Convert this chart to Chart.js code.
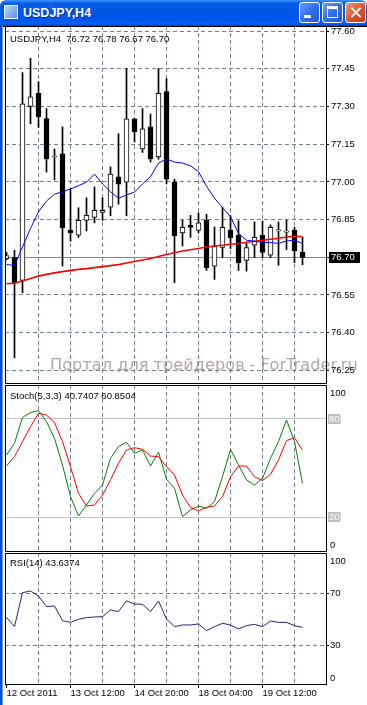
<!DOCTYPE html>
<html><head><meta charset="utf-8"><title>USDJPY,H4</title>
<script src="https://cdn.jsdelivr.net/npm/chart.js@4.4.0/dist/chart.umd.min.js"></script>
<style>
html,body{margin:0;padding:0;background:#fff;width:367px;height:705px;overflow:hidden;}
#title{position:absolute;left:0;top:0;width:367px;height:26px;border-radius:6px 6px 0 0;
background:linear-gradient(to bottom,#3d95ff 0%,#0a5fe8 12%,#0055e5 45%,#0058ec 80%,#0a5fee 90%,#0042d2 100%);}
#ttext{position:absolute;left:23px;top:6px;color:#fff;font:bold 12.5px "Liberation Sans",Arial,sans-serif;text-shadow:1px 1px 0 #0b2a9a;}
#icon{position:absolute;left:4px;top:5px;width:12px;height:12px;border:1px solid #e8f0ff;background:linear-gradient(135deg,#bcd4ff,#5d8fe6);}
.btn{position:absolute;top:2px;width:21px;height:21px;border:1px solid #fff;border-radius:3px;box-sizing:border-box;
background:linear-gradient(135deg,#6a9cf8 0%,#2f6ce8 55%,#1f58d8 100%);}
.close{background:linear-gradient(135deg,#f29a78 0%,#d9542e 55%,#c23c16 100%);}
.gmin{position:absolute;left:4px;top:12px;width:7px;height:3px;background:#fff;}
.gmax{position:absolute;left:4px;top:3px;width:9px;height:8px;border:1px solid #fff;border-top-width:3px;}
.gx{position:absolute;left:9px;top:3px;width:2px;height:13px;background:#fff;}
.gx.a{transform:rotate(45deg);} .gx.b{transform:rotate(-45deg);}
#lframe{position:absolute;left:0;top:26px;width:2px;height:679px;background:#0b4ad8;border-right:1px solid #6e9cf0;}
#topline{position:absolute;left:3px;top:26px;width:364px;height:1px;background:#000;}
canvas{position:absolute;left:0;top:0;}
</style></head>
<body>
<div id="title"><div id="icon"></div><div id="ttext">USDJPY,H4</div>
<div class="btn" style="left:299px"><div class="gmin"></div></div>
<div class="btn" style="left:322px"><div class="gmax"></div></div>
<div class="btn close" style="left:345px"><div class="gx a"></div><div class="gx b"></div></div>
</div>
<div id="lframe"></div>
<div id="topline"></div>
<canvas id="cMain" width="367" height="705"></canvas>
<canvas id="cStoch" width="367" height="705"></canvas>
<canvas id="cRsi" width="367" height="705"></canvas>
<script>
// ---------------- DATA ----------------
const symbol = 'USDJPY';
const period = 'H4';
const opens  = [76.695,76.700,76.608,77.300,77.352,77.252,77.099,77.112,76.808,76.788,76.847,76.859,76.879,76.899,77.020,76.999,77.251,77.131,77.219,77.099,77.359,76.999,76.797,76.827,76.807,76.848,76.665,76.739,76.808,76.788,76.688,76.748,76.787,76.708,76.805,76.800,76.808,76.72];
const highs  = [76.720,76.728,77.435,77.492,77.399,77.292,77.131,77.219,76.972,76.897,76.937,76.980,76.937,77.060,77.192,77.451,77.252,77.292,77.270,77.451,77.411,77.011,76.847,76.867,76.877,76.871,76.821,76.899,76.865,76.845,76.757,76.841,76.845,76.829,76.841,76.848,76.819,76.78];
const lows   = [76.690,76.300,76.559,77.231,77.217,77.039,77.008,76.665,76.764,76.779,76.805,76.837,76.847,76.865,76.911,76.865,77.159,77.117,77.079,77.090,76.992,76.599,76.745,76.779,76.797,76.648,76.612,76.699,76.735,76.647,76.645,76.699,76.699,76.699,76.668,76.730,76.679,76.67];
const closes = [76.707,76.598,77.311,77.339,77.259,77.091,77.099,76.817,76.797,76.847,76.867,76.887,76.887,77.031,76.991,77.251,77.199,77.211,77.091,77.352,77.011,76.785,76.819,76.819,76.837,76.659,76.745,76.819,76.777,76.679,76.739,76.779,76.719,76.819,76.805,76.800,76.725,76.70];
const maFast = [76.671,76.668,76.741,76.815,76.881,76.924,76.951,76.961,76.972,76.985,76.999,77.031,76.992,76.961,76.935,76.948,76.959,76.992,77.021,77.075,77.091,77.079,77.075,77.064,77.041,76.983,76.935,76.898,76.861,76.795,76.768,76.764,76.759,76.759,76.755,76.765,76.768,76.755];
const maSlow = [76.595,76.597,76.606,76.616,76.625,76.632,76.638,76.643,76.648,76.652,76.655,76.659,76.663,76.667,76.671,76.677,76.683,76.689,76.695,76.703,76.711,76.718,76.725,76.730,76.735,76.741,76.745,76.748,76.752,76.755,76.760,76.764,76.768,76.772,76.776,76.781,76.784,76.783];
const stochParams = [5,3,3];
const stochMain   = [58.0,65.2,81.0,83.9,85.1,78.4,68.2,51.9,32.6,20.8,27.5,34.6,39.7,56.0,63.1,65.8,59.1,61.1,51.3,59.7,43.2,37.7,20.4,24.5,26.9,25.5,29.6,44.8,61.5,51.9,42.8,39.7,43.8,56.0,66.2,79.4,66.2,40.7407];
const stochSignal = [51.3,57.0,66.2,75.3,83.5,82.4,77.8,66.2,50.9,34.6,26.9,27.5,33.6,42.8,53.0,61.1,62.5,61.5,57.4,57.0,50.9,45.8,33.6,26.1,23.9,26.1,26.9,32.6,44.8,51.3,51.3,44.8,42.4,46.2,55.0,66.8,68.6,60.8504];
const stochLevels = [20,80];
const stochLabels = [0,20,80,100];
const rsiPeriod = 14;
const rsiValues = [51.4,44.2,70.5,71.8,67.9,59.7,60.2,48.8,47.5,49.9,51.2,51.7,51.9,57.1,55.8,64.1,61.7,61.5,55.8,64.1,50.1,44.2,45.5,45.5,46.3,41.1,44.2,46.8,45.5,42.4,45.0,46.0,44.2,48.6,47.5,47.5,45.0,43.6374];
const rsiLevels = [30,70];
const rsiLabels = [0,30,70,100];
const priceTicks = [76.25,76.40,76.55,76.70,76.85,77.00,77.15,77.30,77.45,77.60];
const xLabelIdx  = [0,8,16,24,32];
const xLabelText = ['12 Oct 2011','13 Oct 12:00','14 Oct 20:00','18 Oct 04:00','19 Oct 12:00'];
const watermarkText = 'Портал для трейдеров - ForTrader.ru';

// ---------------- STYLE ----------------
const FONT = '"Liberation Sans", Arial, sans-serif';
const FS = 9.5;
const GRID = '#708090';
const DASH = [4,3];
const X_MIN = -0.1875, X_MAX = 39.9375;
const AXIS_W = 41;
const last = closes.length - 1;
const idx = closes.map((_, i) => i);
const gridIdx = idx.filter(i => i % 4 === 0);
const pts = arr => arr.map((v, i) => ({x: i, y: v}));
Chart.defaults.font.family = FONT;

function xAxis(bottom) {
  return {
    type: 'linear', min: X_MIN, max: X_MAX, offset: false, bounds: 'data',
    afterBuildTicks: s => { s.ticks = gridIdx.map(v => ({value: v})); },
    afterFit: s => { s.height = bottom ? 21 : 0; },
    grid: {
      offset: false, drawOnChartArea: true, lineWidth: 1,
      color: c => (c.tick && c.tick.value > 0) ? GRID : 'rgba(0,0,0,0)',
      drawTicks: bottom, tickLength: 4, tickWidth: 1,
      tickColor: c => (c.tick && xLabelIdx.includes(c.tick.value)) ? '#000' : 'rgba(0,0,0,0)'
    },
    border: {display: false, dash: DASH},
    ticks: {
      display: bottom, autoSkip: false, maxRotation: 0, minRotation: 0, align: 'start',
      padding: 0, color: '#000', font: {family: FONT, size: FS},
      callback: v => { const k = xLabelIdx.indexOf(v); return k >= 0 ? xLabelText[k] : ''; }
    }
  };
}

function frame(chart) {
  const {ctx, chartArea: a} = chart;
  ctx.save(); ctx.strokeStyle = '#000'; ctx.lineWidth = 1;
  ctx.strokeRect(a.left + 0.5, a.top + 0.5, a.right - a.left, a.bottom - a.top);
  ctx.restore();
}
function header(chart, text, dy) {
  const {ctx, chartArea: a} = chart;
  ctx.save(); ctx.font = FS + 'px ' + FONT; ctx.fillStyle = '#000';
  ctx.textBaseline = 'middle'; ctx.textAlign = 'left';
  ctx.fillText(text, a.left + 5, a.top + dy);
  ctx.restore();
}
function sideLabels(chart, values, boxed) {
  const {ctx, chartArea: a} = chart; const ys = chart.scales.y;
  ctx.save(); ctx.font = FS + 'px ' + FONT; ctx.textBaseline = 'middle'; ctx.textAlign = 'left';
  values.forEach(v => {
    let py = ys.getPixelForValue(v);
    py = Math.min(Math.max(py, a.top + 8), a.bottom - 6);
    const t = String(v);
    if (boxed.includes(v)) {
      const w = ctx.measureText(t).width;
      ctx.fillStyle = '#c0c0c0'; ctx.fillRect(a.right + 2, Math.round(py) - 5, w + 2, 10);
      ctx.fillStyle = '#ffffff'; ctx.fillText(t, a.right + 3, py);
    } else {
      ctx.fillStyle = '#000'; ctx.fillText(t, a.right + 4, py);
    }
  });
  ctx.restore();
}

// ---------------- MAIN PRICE CHART ----------------
const mainDeco = {
  id: 'mainDeco',
  beforeDraw(chart) {
    const ctx = chart.ctx;
    ctx.save();
    ctx.font = '17px "DejaVu Sans", sans-serif';
    const w = ctx.measureText(watermarkText).width;
    const size = 17 * 308 / w;
    ctx.font = size.toFixed(2) + 'px "DejaVu Sans", sans-serif';
    ctx.fillStyle = '#b4a7a7'; ctx.textBaseline = 'alphabetic'; ctx.textAlign = 'left';
    ctx.fillText(watermarkText, 50, 370);
    ctx.restore();
  },
  beforeDatasetsDraw(chart) {
    const {ctx, chartArea: a} = chart;
    const y = Math.round(chart.scales.y.getPixelForValue(closes[last])) + 0.5;
    ctx.save(); ctx.strokeStyle = '#808890'; ctx.lineWidth = 1;
    ctx.beginPath(); ctx.moveTo(a.left, y); ctx.lineTo(a.right, y); ctx.stroke();
    ctx.restore();
  },
  afterDraw(chart) {
    frame(chart);
    header(chart, symbol + ',' + period + '  ' + [opens[last], highs[last], lows[last], closes[last]].map(v => v.toFixed(2)).join(' '), 13);
    const {ctx, chartArea: a} = chart;
    const y = chart.scales.y.getPixelForValue(closes[last]);
    ctx.save();
    ctx.fillStyle = '#000'; ctx.fillRect(a.right + 3, Math.round(y) - 5, 31, 11);
    ctx.fillStyle = '#fff'; ctx.font = FS + 'px ' + FONT; ctx.textBaseline = 'middle'; ctx.textAlign = 'left';
    ctx.fillText(closes[last].toFixed(2), a.right + 5, Math.round(y) + 0.5);
    ctx.restore();
  }
};

new Chart(document.getElementById('cMain'), {
  type: 'bar',
  data: {
    datasets: [
      {type: 'line', data: pts(maFast), borderColor: '#0000ff', borderWidth: 1, pointRadius: 0, tension: 0, order: 0},
      {type: 'line', data: pts(maSlow), borderColor: '#ff0000', borderWidth: 1.6, pointRadius: 0, tension: 0, order: 1},
      {type: 'bar', data: opens.map((o, i) => ({x: i, y: [o, closes[i]]})),
        backgroundColor: opens.map((o, i) => closes[i] >= o ? '#ffffff' : '#000000'),
        borderColor: '#000000', borderWidth: 1, borderSkipped: false, barThickness: 5,
        minBarLength: 1, grouped: false, order: 2},
      {type: 'bar', data: highs.map((h, i) => ({x: i, y: [lows[i], h]})),
        backgroundColor: '#000000', borderWidth: 0, barThickness: 1, grouped: false, order: 3}
    ]
  },
  options: {
    responsive: false, animation: false, devicePixelRatio: 1,
    layout: {padding: {left: 5, top: 26, right: 0, bottom: 705 - 383}},
    plugins: {legend: {display: false}, tooltip: {enabled: false}},
    scales: {
      x: xAxis(false),
      y: {
        type: 'linear', position: 'right', min: 76.1998, max: 77.6204, bounds: 'data',
        afterBuildTicks: s => { s.ticks = priceTicks.map(v => ({value: v})); },
        afterFit: s => { s.width = AXIS_W; },
        grid: {color: GRID, lineWidth: 1, drawTicks: true, tickLength: 3, tickColor: '#000', tickWidth: 1},
        border: {display: false, dash: DASH},
        ticks: {color: '#000', padding: 2, font: {family: FONT, size: FS}, callback: v => Number(v).toFixed(2)}
      }
    }
  },
  plugins: [mainDeco]
});

// ---------------- STOCHASTIC ----------------
new Chart(document.getElementById('cStoch'), {
  type: 'line',
  data: {
    datasets: [
      {data: pts(stochMain), borderColor: '#008000', borderWidth: 1, pointRadius: 0, tension: 0, order: 1},
      {data: pts(stochSignal), borderColor: '#ff0000', borderWidth: 1, pointRadius: 0, tension: 0, order: 0}
    ]
  },
  options: {
    responsive: false, animation: false, devicePixelRatio: 1,
    layout: {padding: {left: 5, top: 385, right: 0, bottom: 705 - 551}},
    plugins: {legend: {display: false}, tooltip: {enabled: false}},
    scales: {
      x: xAxis(false),
      y: {
        type: 'linear', position: 'right', min: -0.57, max: 100.75, bounds: 'data',
        afterBuildTicks: s => { s.ticks = stochLevels.map(v => ({value: v})); },
        afterFit: s => { s.width = AXIS_W; },
        grid: {color: '#c0c0c0', lineWidth: 1, drawTicks: false},
        border: {display: false},
        ticks: {display: false}
      }
    }
  },
  plugins: [{
    id: 'stochDeco',
    afterDraw(chart) {
      frame(chart);
      header(chart, 'Stoch(' + stochParams.join(',') + ') ' + stochMain[last].toFixed(4) + ' ' + stochSignal[last].toFixed(4), 11);
      sideLabels(chart, stochLabels, stochLevels);
    }
  }]
});

// ---------------- RSI ----------------
new Chart(document.getElementById('cRsi'), {
  type: 'line',
  data: {
    datasets: [
      {data: pts(rsiValues), borderColor: '#23237a', borderWidth: 1, pointRadius: 0, tension: 0}
    ]
  },
  options: {
    responsive: false, animation: false, devicePixelRatio: 1,
    layout: {padding: {left: 5, top: 553, right: 0, bottom: 0}},
    plugins: {legend: {display: false}, tooltip: {enabled: false}},
    scales: {
      x: xAxis(true),
      y: {
        type: 'linear', position: 'right', min: -0.17, max: 101.18, bounds: 'data',
        afterBuildTicks: s => { s.ticks = rsiLevels.map(v => ({value: v})); },
        afterFit: s => { s.width = AXIS_W; },
        grid: {color: GRID, lineWidth: 1, drawTicks: true, tickLength: 3, tickColor: '#000'},
        border: {display: false, dash: DASH},
        ticks: {display: false}
      }
    }
  },
  plugins: [{
    id: 'rsiDeco',
    afterDraw(chart) {
      frame(chart);
      header(chart, 'RSI(' + rsiPeriod + ') ' + rsiValues[last].toFixed(4), 10);
      sideLabels(chart, rsiLabels, []);
    }
  }]
});
</script>
</body></html>
